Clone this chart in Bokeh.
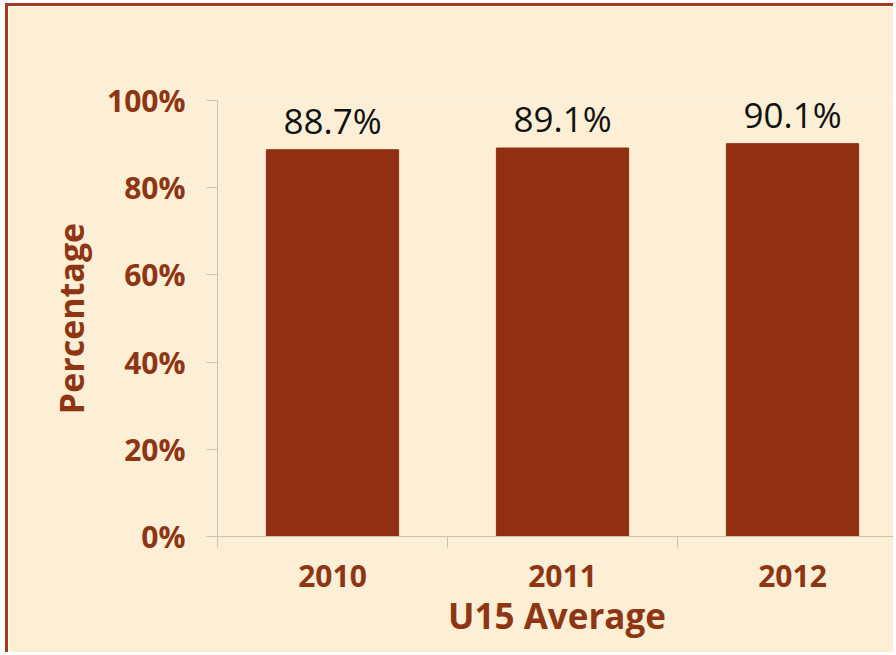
from bokeh.plotting import figure
from bokeh.models import Range1d, FixedTicker, PrintfTickFormatter, ColumnDataSource, LinearAxis, LabelSet
from bokeh.core.properties import value
from bokeh.embed import file_html
from bokeh.resources import INLINE

years = ["2010", "2011", "2012"]
percentages = [88.7, 89.1, 90.1]
y_ticks = [0, 20, 40, 60, 80, 100]

BG = "#FCEFD5"
BAR = "#902F12"
TXT = "#8E3514"
AXIS = "#CBC4B4"
FONT = "Open Sans"

xpos = [i + 0.5 for i in range(len(years))]
labels = [f"{v}%" for v in percentages]
src = ColumnDataSource(dict(x=xpos, top=percentages, label=labels))

p = figure(width=888, height=649, output_backend="svg", toolbar_location=None,
           x_range=Range1d(0, 2.952), y_range=Range1d(0, 100),
           min_border_left=209, min_border_top=94, min_border_bottom=119,
           min_border_right=0, x_axis_location=None, y_axis_location=None)
p.background_fill_color = BG
p.border_fill_color = BG
p.outline_line_color = None
p.xgrid.visible = False
p.ygrid.visible = False
p.styles = {"margin-left": "5px", "margin-top": "3px",
            "border-left": "3px solid #A33C1C", "border-top": "3px solid #A33C1C"}

p.vbar(x="x", top="top", width=0.575, bottom=0, source=src,
       fill_color=BAR, line_color=BAR)
p.add_layout(LabelSet(x="x", y="top", text="label", source=src, text_align="center",
                      text_baseline="alphabetic", y_offset=16, text_color="#111111",
                      text_font=value(FONT), text_font_size=value("35px")))

# y axis
ya = LinearAxis(ticker=FixedTicker(ticks=y_ticks, minor_ticks=[]),
                formatter=PrintfTickFormatter(format="%d%%"))
ya.axis_line_color = AXIS
ya.major_tick_line_color = AXIS
ya.major_tick_out = 11
ya.major_tick_in = 0
ya.minor_tick_out = 0
ya.minor_tick_in = 0
ya.major_label_standoff = 21
ya.major_label_text_font = FONT
ya.major_label_text_font_style = "bold"
ya.major_label_text_font_size = "30px"
ya.major_label_text_color = TXT
ya.axis_label = "Percentage"
ya.axis_label_text_font = FONT
ya.axis_label_text_font_style = "bold"
ya.axis_label_text_font_size = "34px"
ya.axis_label_text_color = TXT
ya.axis_label_standoff = 10
p.add_layout(ya, "left")

# x axis: labels at category centres, tick marks at category boundaries
xa = LinearAxis(ticker=FixedTicker(ticks=xpos, minor_ticks=[0, 1, 2, 3]),
                major_label_overrides={x: y for x, y in zip(xpos, years)})
xa.axis_line_color = AXIS
xa.major_tick_out = 0
xa.major_tick_in = 0
xa.minor_tick_line_color = AXIS
xa.minor_tick_out = 11
xa.minor_tick_in = 0
xa.major_label_standoff = 17
xa.major_label_text_font = FONT
xa.major_label_text_font_style = "bold"
xa.major_label_text_font_size = "30px"
xa.major_label_text_color = TXT
xa.axis_label = "U15 Average"
xa.axis_label_text_font = FONT
xa.axis_label_text_font_style = "bold"
xa.axis_label_text_font_size = "35px"
xa.axis_label_text_color = TXT
xa.axis_label_standoff = 2
p.add_layout(xa, "below")

open("out.html", "w").write(file_html(p, INLINE))
